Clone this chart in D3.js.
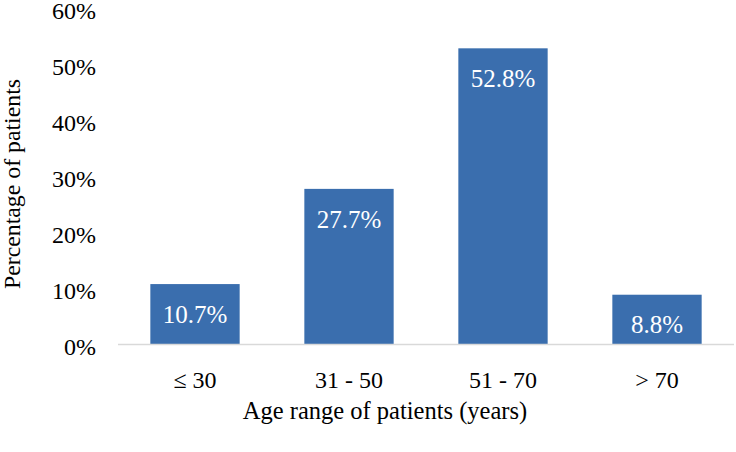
<!DOCTYPE html>
<html>
<head>
    <meta charset="utf-8">
    <script src="https://cdn.jsdelivr.net/npm/d3@7"></script>
</head>
<body style="margin:0">
<div id="chart"></div>
<script>
    // chart data
    const categories = ["\u2264 30", "31 - 50", "51 - 70", "> 70"];
    const percentages = [10.7, 27.7, 52.8, 8.8];
    const yTicks = [0, 10, 20, 30, 40, 50, 60];

    // plot dimensions and margins
    const margin = {top: 8, right: 2, bottom: 108, left: 118};
    const width = 736 - margin.left - margin.right;
    const height = 452 - margin.top - margin.bottom;

    const root = d3.select("#chart")
        .append("svg")
            .attr("width", 736)
            .attr("height", 452);

    const svg = root.append("g")
        .attr("font-family", "Liberation Serif")
        .attr("transform", "translate(" + margin.left + "," + margin.top + ")");

    const x = d3.scaleBand()
        .domain(categories)
        .range([0, width])
        .paddingInner(0.42)
        .paddingOuter(0.21);

    const y = d3.scaleLinear()
        .domain([0, 60])
        .range([height, 0]);

    // y tick labels (no axis line)
    svg.append("g")
        .selectAll("text")
        .data(yTicks)
        .enter()
        .append("text")
            .attr("x", -22)
            .attr("y", d => y(d) + 3)
            .attr("dy", "0.35em")
            .attr("text-anchor", "end")
            .attr("font-family", "Liberation Serif")
            .attr("font-size", 24)
            .text(d => d + "%");

    // bars
    svg.append("g")
        .selectAll("rect")
        .data(percentages)
        .enter()
        .append("rect")
            .attr("x", (d, i) => x(categories[i]))
            .attr("y", d => y(d))
            .attr("width", x.bandwidth())
            .attr("height", d => height - y(d))
            .attr("fill", "#3a6eae");

    // x axis line
    svg.append("line")
        .attr("x1", 0)
        .attr("x2", width)
        .attr("y1", height + 0.5)
        .attr("y2", height + 0.5)
        .attr("stroke", "#d9d9d9")
        .attr("stroke-width", 1.5);

    // value labels
    svg.append("g")
        .selectAll("text")
        .data(percentages)
        .enter()
        .append("text")
            .attr("x", (d, i) => x(categories[i]) + x.bandwidth() / 2)
            .attr("y", d => y(d) + 30)
            .attr("dy", "0.35em")
            .attr("text-anchor", "middle")
            .attr("fill", "#fff")
            .attr("font-family", "Liberation Serif")
            .attr("font-size", 25)
            .text(d => d.toFixed(1) + "%");

    // x tick labels
    svg.append("g")
        .selectAll("text")
        .data(categories)
        .enter()
        .append("text")
            .attr("x", d => x(d) + x.bandwidth() / 2)
            .attr("y", height + 36)
            .attr("dy", "0.35em")
            .attr("text-anchor", "middle")
            .attr("font-family", "Liberation Serif")
            .attr("font-size", 24)
            .text(d => d);

    // x axis title
    svg.append("text")
        .attr("x", 267)
        .attr("y", height + 66)
        .attr("dy", "0.35em")
        .attr("text-anchor", "middle")
        .attr("font-family", "Liberation Serif")
        .attr("font-size", 24.5)
        .text("Age range of patients (years)");

    // y axis title
    svg.append("text")
        .attr("transform", "rotate(-90)")
        .attr("x", -176)
        .attr("y", -margin.left + 12)
        .attr("dy", "0.35em")
        .attr("text-anchor", "middle")
        .attr("font-family", "Liberation Serif")
        .attr("font-size", 23.8)
        .text("Percentage of patients");
</script>
</body>
</html>
